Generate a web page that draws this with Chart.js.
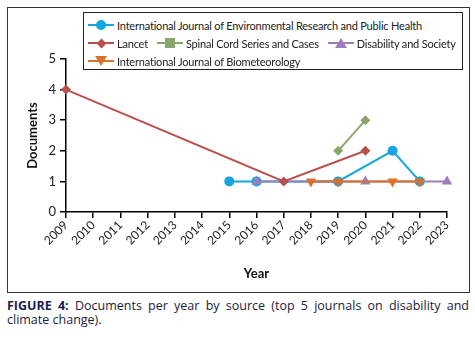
<!DOCTYPE html>
<html>
<head>
<meta charset="utf-8">
<script src="https://cdn.jsdelivr.net/npm/chart.js@4/dist/chart.umd.min.js"></script>
<style>
  body { margin: 0; background: #fff; font-family: Lato, "Open Sans", sans-serif; }
  #frame { position: absolute; left: 7px; top: 7px; width: 461px; height: 284px; border: 1px solid #333; }
  #wrap { position: absolute; left: 0; top: 0; width: 461px; height: 284px; }
  #legend { position: absolute; left: 75px; top: 4px; width: 378px; height: 56px; border: 1px solid #222; background: #fff; font-size: 11px; letter-spacing: -0.2px; color: #222; }
  .row { position: absolute; left: 4px; display: flex; align-items: center; height: 16px; white-space: nowrap; }
  .item { display: flex; align-items: center; margin-right: 9px; }
  .icon { position: relative; width: 26px; height: 12px; margin-right: 3px; }
  .icon .ln { position: absolute; left: 0; right: 0; top: 5px; height: 2px; }
  .icon .mk { position: absolute; left: 50%; top: 50%; }
  .circle { width: 10px; height: 10px; border-radius: 50%; margin: -5px 0 0 -5px; }
  .diamond { width: 7px; height: 7px; transform: rotate(45deg); margin: -3.5px 0 0 -3.5px; }
  .square { width: 10px; height: 10px; margin: -5px 0 0 -5px; }
  .tri { width: 0; height: 0; border-left: 6px solid transparent; border-right: 6px solid transparent; margin: -5px 0 0 -6px; }
  #caption { position: absolute; left: 7px; top: 299px; width: 462px; font-family: "Open Sans", sans-serif; font-size: 12.5px; line-height: 14px; color: #1c1c3c; text-align: justify; }
  #caption b { color: #1c1c50; }
</style>
</head>
<body>
<div id="frame">
  <div id="wrap"><canvas id="chart"></canvas></div>
  <div id="legend"></div>
</div>
<div id="caption"><b>FIGURE 4:</b> Documents per year by source (top 5 journals on disability and climate change).</div>
<script>
// Jahre und Dokumente pro Zeitschrift
const years = ['2009','2010','2011','2012','2013','2014','2015','2016','2017','2018','2019','2020','2021','2022','2023'];
const ijerph      = [null,null,null,null,null,null,1,1,null,null,1,null,2,1,null];
const lancet      = [4,null,null,null,null,null,null,null,1,null,null,2,null,null,null];
const spinalCord  = [null,null,null,null,null,null,null,null,null,null,2,3,null,null,null];
const disability  = [null,null,null,null,null,null,null,1,null,null,null,1,null,null,1];
const biomet      = [null,null,null,null,null,null,null,null,null,1,1,null,1,1,null];
const yTicks = [0,1,2,3,4,5];

const series = [
  { label: 'International Journal of Environmental Research and Public Health', data: ijerph, color: '#13a6e0', style: 'circle', radius: 5, order: 4 },
  { label: 'Lancet', data: lancet, color: '#b8504d', style: 'rectRot', radius: 5, order: 2 },
  { label: 'Spinal Cord Series and Cases', data: spinalCord, color: '#8aa66f', style: 'rectRot', radius: 5, order: 1, legendMk: 'square' },
  { label: 'Disability and Society', data: disability, color: '#9b7fba', style: 'triangle', radius: 6, order: 3 },
  { label: 'International Journal of Biometeorology', data: biomet, color: '#d8712d', style: 'triangle', rotation: 180, radius: 6, order: 0 }
];

// Legende als HTML (Zeilenumbruch wie im Original)
function legendItem(s) {
  const kind = s.legendMk || (s.style === 'circle' ? 'circle' : s.style === 'rectRot' ? 'diamond' : 'tri');
  let mk;
  if (kind === 'tri') {
    const down = s.rotation === 180;
    mk = `<div class="mk tri" style="${down ? 'border-top' : 'border-bottom'}:10px solid ${s.color}"></div>`;
  } else {
    mk = `<div class="mk ${kind}" style="background:${s.color}"></div>`;
  }
  return `<div class="item"><div class="icon"><div class="ln" style="background:${s.color}"></div>${mk}</div>${s.label}</div>`;
}
const rows = [[0], [1, 2, 3], [4]];
document.getElementById('legend').innerHTML = rows.map((r, i) =>
  `<div class="row" style="top:${4 + i * 18}px">${r.map(k => legendItem(series[k])).join('')}</div>`
).join('');

const font = { family: 'Lato, "Open Sans", sans-serif', size: 12 };

new Chart(document.getElementById('chart'), {
  type: 'line',
  data: {
    labels: years,
    datasets: series.map(s => ({
      label: s.label,
      data: s.data,
      borderColor: s.color,
      backgroundColor: s.color,
      borderWidth: 2,
      pointStyle: s.style,
      pointRotation: s.rotation || 0,
      pointRadius: s.radius,
      pointBorderWidth: 0,
      spanGaps: true,
      tension: 0,
      order: s.order
    }))
  },
  options: {
    responsive: true,
    maintainAspectRatio: false,
    animation: false,
    layout: { padding: { left: 0, right: 22, top: 51, bottom: 0 } },
    plugins: { legend: { display: false }, tooltip: { enabled: false } },
    scales: {
      x: {
        offset: false,
        grid: { display: true, drawOnChartArea: false, drawTicks: true, tickLength: 6, color: '#000', lineWidth: 1.5 },
        border: { color: '#000', width: 1.5 },
        ticks: { color: '#222', font: font, minRotation: 45, maxRotation: 45, autoSkip: false, padding: 0 },
        title: { display: true, text: 'Year', color: '#111', font: { family: font.family, size: 13, weight: 'bold' }, padding: { top: 4, bottom: 10 } },
        afterFit: s => { s.height = 80; }
      },
      y: {
        min: 0, max: 5,
        afterBuildTicks: s => { s.ticks = yTicks.map(v => ({ value: v })); },
        grid: { display: true, drawOnChartArea: false, drawTicks: true, tickLength: 6, color: '#000', lineWidth: 1.5 },
        border: { color: '#000', width: 1.5 },
        ticks: { color: '#222', font: { family: font.family, size: 13 }, padding: 4 },
        title: { display: true, text: 'Documents', color: '#111', font: { family: font.family, size: 13, weight: 'bold' }, padding: { top: 17, bottom: 0 } },
        afterFit: s => { s.width = 58; }
      }
    }
  }
});
</script>
</body>
</html>
